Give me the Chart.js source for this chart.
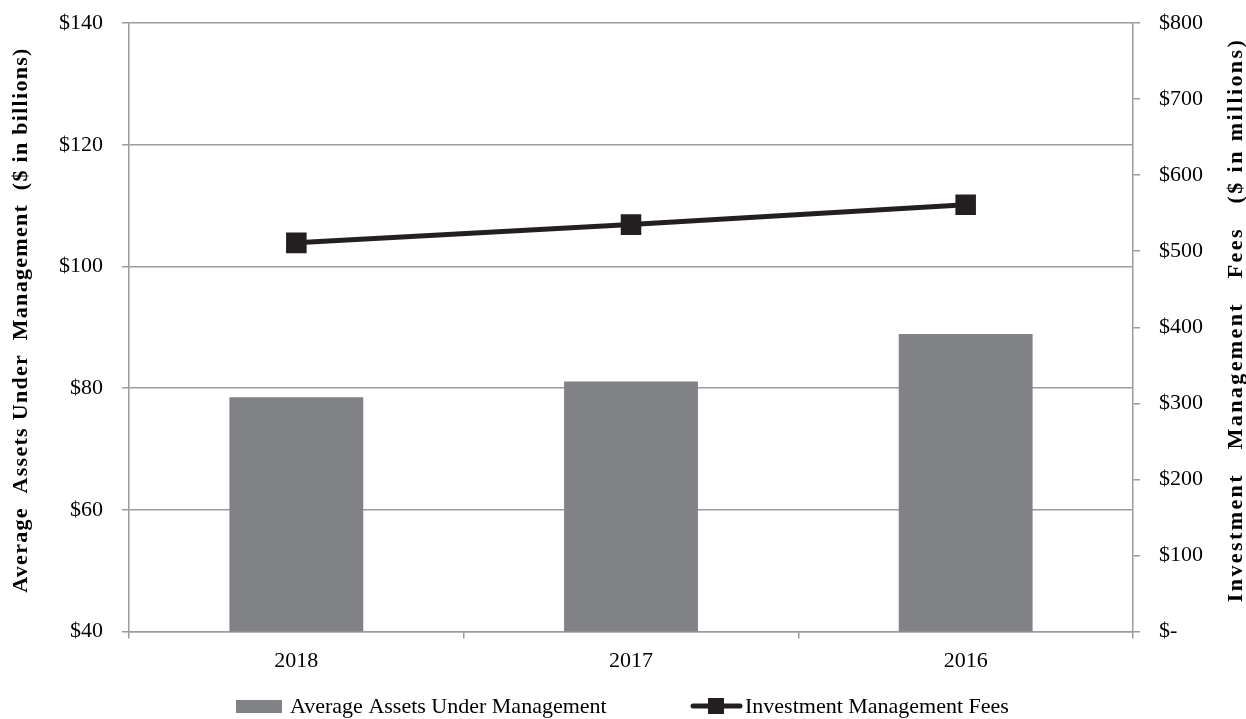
<!DOCTYPE html>
<html>
<head>
<meta charset="utf-8">
<script src="https://cdn.jsdelivr.net/npm/chart.js@4/dist/chart.umd.min.js"></script>
<style>
  body { margin: 0; background: #fff; }
  #wrap { width: 1246px; height: 719px; }
</style>
</head>
<body>
<div id="wrap"><canvas id="chart" width="1246" height="719"></canvas></div>
<script>
// Data
const years = ['2018', '2017', '2016'];
const avgAssets = [78.5, 81.1, 88.9];      // $ in billions, left axis
const mgmtFees = [511, 535, 561];          // $ in millions, right axis
const leftTicks = ['$40', '$60', '$80', '$100', '$120', '$140'];
const rightTicks = ['$-', '$100', '$200', '$300', '$400', '$500', '$600', '$700', '$800'];

const FONT = "'Liberation Serif', 'Times New Roman', serif";
const barColor = '#818285';
const lineColor = '#231f20';
const gridColor = '#9b9b9b';

// axis titles (both read bottom to top) and the legend row
const extras = {
  id: 'extras',
  afterDraw(chart) {
    const { ctx } = chart;
    const ds = chart.data.datasets;
    ctx.save();
    ctx.fillStyle = '#000';
    ctx.textBaseline = 'middle';

    ctx.font = 'bold 22px ' + FONT;
    ctx.textAlign = 'center';
    [[21, 1.3, 'Average  Assets Under  Management  ($ in billions)'],
     [1236, 2.4, 'Investment   Management   Fees   ($ in millions)']].forEach(([x, sp, t]) => {
      ctx.save();
      ctx.letterSpacing = sp + 'px';
      ctx.translate(x, 320);
      ctx.rotate(-Math.PI / 2);
      ctx.fillText(t, 0, 0);
      ctx.restore();
    });

    // legend
    const ly = 706;
    ctx.font = '22px ' + FONT;
    ctx.textAlign = 'left';
    ctx.fillStyle = ds[0].backgroundColor;
    ctx.fillRect(236, ly - 6, 46, 13);
    ctx.fillStyle = '#000';
    ctx.fillText(ds[0].label, 290, ly + 1);

    ctx.strokeStyle = ds[1].borderColor;
    ctx.lineWidth = 5;
    ctx.lineCap = 'round';
    ctx.beginPath(); ctx.moveTo(693, ly); ctx.lineTo(740, ly); ctx.stroke();
    ctx.fillStyle = ds[1].backgroundColor;
    ctx.fillRect(708, ly - 8, 16, 16);
    ctx.fillStyle = '#000';
    ctx.fillText(ds[1].label, 745, ly + 1);
    ctx.restore();
  }
};

const noTopPad = s => { s.paddingTop = 0; };

new Chart(document.getElementById('chart'), {
  data: {
    labels: years,
    datasets: [{
      type: 'bar',
      label: 'Average Assets Under Management',
      data: avgAssets,
      backgroundColor: barColor,
      yAxisID: 'y',
      barPercentage: 0.4,
      categoryPercentage: 1,
      order: 2
    }, {
      type: 'line',
      label: 'Investment Management Fees',
      data: mgmtFees,
      borderColor: lineColor,
      borderWidth: 5,
      backgroundColor: lineColor,
      pointStyle: 'rect',
      pointRadius: 11,
      pointHoverRadius: 11,
      yAxisID: 'y1',
      order: 1
    }]
  },
  options: {
    responsive: false,
    animation: false,
    layout: { padding: { left: 40, right: 24, top: 23, bottom: 36 } },
    scales: {
      x: {
        grid: { drawOnChartArea: false, color: gridColor, lineWidth: 1.5, tickLength: 7 },
        border: { color: gridColor, width: 1.5 },
        ticks: { color: '#000', font: { family: FONT, size: 22 }, padding: 9 }
      },
      y: {
        position: 'left',
        min: 40, max: 140,
        afterFit: noTopPad,
        grid: { color: gridColor, lineWidth: 1.5, tickLength: 7 },
        border: { color: gridColor, width: 1.5 },
        ticks: {
          stepSize: 20, padding: 19, color: '#000',
          font: { family: FONT, size: 22 },
          callback: (v, i) => leftTicks[i]
        }
      },
      y1: {
        position: 'right',
        min: 0, max: 800,
        afterFit: noTopPad,
        grid: { drawOnChartArea: false, color: gridColor, lineWidth: 1.5, tickLength: 7 },
        border: { color: gridColor, width: 1.5 },
        ticks: {
          stepSize: 100, padding: 19, color: '#000',
          font: { family: FONT, size: 22 },
          callback: (v, i) => rightTicks[i]
        }
      }
    },
    plugins: {
      legend: { display: false },
      tooltip: { enabled: false }
    }
  },
  plugins: [extras]
});
</script>
</body>
</html>
